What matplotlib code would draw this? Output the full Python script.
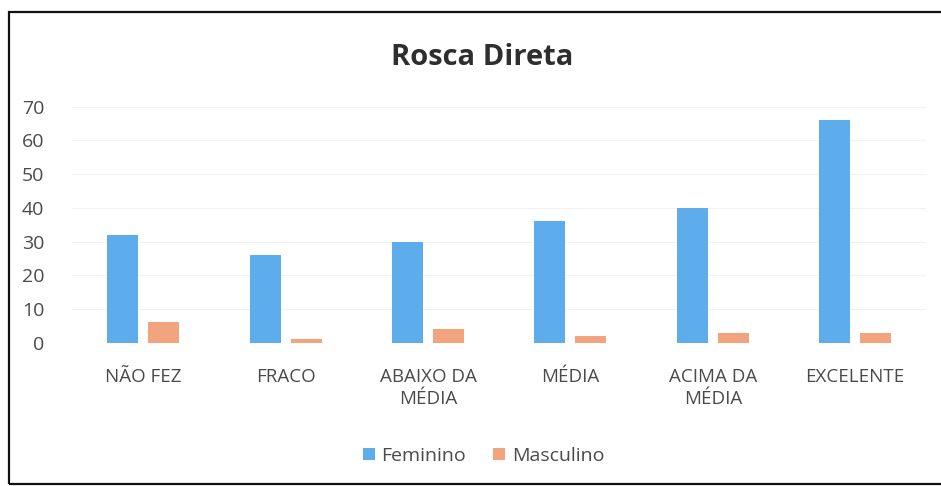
import numpy as np
import matplotlib.pyplot as plt
from matplotlib.patches import Rectangle

# Dados do gráfico
categorias = ['NÃO FEZ', 'FRACO', 'ABAIXO DA\nMÉDIA', 'MÉDIA', 'ACIMA DA\nMÉDIA', 'EXCELENTE']
feminino = [32, 26, 30, 36, 40, 66]
masculino = [6, 1, 4, 2, 3, 3]
yticks = [0, 10, 20, 30, 40, 50, 60, 70]

plt.rcParams['font.family'] = ['Open Sans', 'DejaVu Sans']

# Criar figura e eixo
fig = plt.figure(figsize=(9.41, 4.86), dpi=100)
ax = fig.add_axes([0.0765, 0.2949, 0.908, 0.4856])

x = np.arange(len(categorias))
largura = 0.218
ax.bar(x - 0.144, feminino, largura, color='#5DADEC', label='Feminino', zorder=3)
ax.bar(x + 0.144, masculino, largura, color='#F2A47E', label='Masculino', zorder=3)

ax.set_xlim(-0.5, len(categorias) - 0.5)
ax.set_ylim(0, 70)
ax.set_yticks(yticks)
ax.set_xticks(x)
ax.set_xticklabels(categorias, fontsize=13.5, color='#4a4a4a', linespacing=1.32)
ax.tick_params(axis='y', labelsize=14, labelcolor='#4a4a4a', length=0, pad=20)
ax.tick_params(axis='x', length=0, pad=18)
ax.grid(axis='y', color='#f2f2f2', linewidth=0.8, zorder=0)

for s in ax.spines.values():
    s.set_visible(False)

# Título
fig.text(0.512, 0.882, 'Rosca Direta', fontsize=21, fontweight='bold',
         color='#2e2e2e', ha='center', va='center')

# Legenda
fig.legend(loc='center', bbox_to_anchor=(0.514, 0.062), ncol=2, frameon=False,
           fontsize=14, handlelength=0.6, handleheight=0.6, handletextpad=0.35,
           columnspacing=1.4, labelcolor='#4a4a4a')

# Moldura
fig.add_artist(Rectangle((0.0096, 0.004), 1.1, 0.971, transform=fig.transFigure,
                         fill=False, edgecolor='#111111', linewidth=1.6))

fig.savefig('out.png', dpi=100)
